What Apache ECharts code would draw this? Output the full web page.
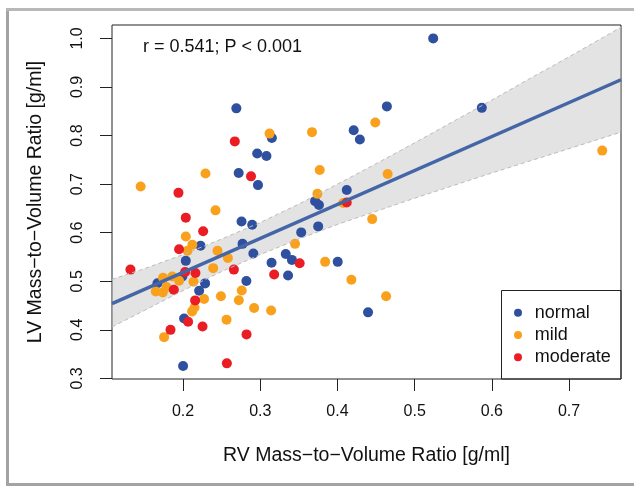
<!DOCTYPE html>
<html><head><meta charset="utf-8">
<script src="https://cdn.jsdelivr.net/npm/echarts@6/dist/echarts.min.js"></script>
<style>html,body{margin:0;padding:0;background:#fff}#c{width:634px;height:487px}</style>
</head><body><div id="c"></div>
<script>
// ---- data ----
const seriesNames = ['normal', 'mild', 'moderate'];
const normalPts = [
  [0.269,0.856],[0.315,0.795],[0.421,0.811],[0.429,0.792],[0.296,0.763],[0.308,0.758],
  [0.272,0.723],[0.297,0.698],[0.412,0.688],[0.371,0.665],[0.376,0.657],[0.524,1.0],
  [0.464,0.860],[0.587,0.857],[0.4396,0.436],[0.2226,0.573],[0.2035,0.542],[0.2757,0.623],
  [0.2895,0.6165],[0.277,0.577],[0.291,0.557],[0.353,0.6006],[0.375,0.613],[0.333,0.556],
  [0.341,0.544],[0.3146,0.538],[0.4003,0.540],[0.336,0.512],[0.1668,0.496],[0.199,0.510],
  [0.2285,0.4956],[0.2208,0.4806],[0.282,0.5005],[0.2013,0.4235],[0.200,0.3255]
];
const mildPts = [
  [0.312,0.804],[0.367,0.807],[0.145,0.695],[0.229,0.722],[0.377,0.729],[0.374,0.680],
  [0.4075,0.661],[0.242,0.646],[0.449,0.827],[0.743,0.769],[0.465,0.721],[0.445,0.628],
  [0.418,0.503],[0.463,0.469],[0.2035,0.592],[0.212,0.575],[0.2057,0.563],[0.2446,0.563],
  [0.258,0.548],[0.239,0.527],[0.345,0.577],[0.384,0.540],[0.174,0.507],[0.1646,0.479],
  [0.1737,0.477],[0.1785,0.488],[0.186,0.510],[0.1948,0.501],[0.2135,0.499],[0.2272,0.4635],
  [0.276,0.481],[0.2722,0.461],[0.249,0.469],[0.2148,0.446],[0.2117,0.438],[0.292,0.445],
  [0.314,0.440],[0.2563,0.421],[0.1754,0.385]
];
const moderatePts = [
  [0.267,0.788],[0.288,0.716],[0.194,0.682],[0.412,0.662],[0.2035,0.631],[0.226,0.603],
  [0.1948,0.566],[0.351,0.537],[0.318,0.514],[0.2658,0.524],[0.1318,0.524],[0.188,0.4826],
  [0.2026,0.519],[0.216,0.517],[0.2156,0.4606],[0.2065,0.4167],[0.2252,0.407],[0.1837,0.400],
  [0.2822,0.3906],[0.2567,0.331]
];
const regLine = [[0.1079,0.4538],[0.7673,0.9149]];
const bandX     = [0.1079,0.15,0.2,0.25,0.3,0.35,0.4,0.45,0.5,0.55,0.6,0.65,0.7,0.7673];
const bandUpper = [0.504,0.526,0.555,0.587,0.621,0.659,0.700,0.742,0.785,0.829,0.873,0.918,0.962,1.023];
const bandLower = [0.406,0.440,0.481,0.520,0.555,0.587,0.617,0.644,0.671,0.697,0.723,0.748,0.773,0.807];
const xTicks = [0.2,0.3,0.4,0.5,0.6,0.7];
const yTicks = [0.3,0.4,0.5,0.6,0.7,0.8,0.9,1.0];
const annotation = 'r = 0.541; P < 0.001';
const xTitle = 'RV Mass\u2212to\u2212Volume Ratio [g/ml]';
const yTitle = 'LV Mass\u2212to\u2212Volume Ratio [g/ml]';
const colors = ['#2f4f9f', '#f9a11d', '#ea1d24'];

// ---- chart ----
const FONT = '"Liberation Sans", Arial, Helvetica, sans-serif';
const chart = echarts.init(document.getElementById('c'), null, {renderer: 'canvas'});
const bandPoly = bandX.map((x,i)=>[x,bandUpper[i]]).concat(bandX.map((x,i)=>[x,bandLower[i]]).reverse());

const option = {
  animation: false,
  backgroundColor: '#fff',
  textStyle: {fontFamily: FONT},
  grid: {left: 112, top: 25, width: 509, height: 354, show: true, borderColor: '#222', borderWidth: 1,
         backgroundColor: 'transparent', containLabel: false, outerBoundsMode: 'none'},
  xAxis: {
    type: 'value', min: 0.1079, max: 0.7673,
    splitLine: {show: false},
    axisLine: {show: false, onZero: false},
    axisTick: {show: true, customValues: xTicks, length: 12, lineStyle: {color: '#222', width: 1}},
    axisLabel: {customValues: xTicks, margin: 25, fontSize: 16, color: '#111', fontFamily: FONT,
                formatter: v => v.toFixed(1)},
    name: xTitle, nameLocation: 'middle', nameGap: 67,
    nameTextStyle: {fontSize: 19.5, color: '#111', fontFamily: FONT}
  },
  yAxis: {
    type: 'value', min: 0.2988, max: 1.0276,
    splitLine: {show: false},
    axisLine: {show: false, onZero: false},
    axisTick: {show: true, customValues: yTicks, length: 12, lineStyle: {color: '#222', width: 1}},
    axisLabel: {customValues: yTicks, rotate: 90, margin: 26, fontSize: 16, color: '#111', fontFamily: FONT,
                formatter: v => v.toFixed(1)},
    name: yTitle, nameLocation: 'middle', nameGap: 66, nameRotate: 90,
    nameTextStyle: {fontSize: 19.5, color: '#111', fontFamily: FONT}
  },
  legend: {
    data: seriesNames, orient: 'vertical', left: 514, top: 303.7, padding: 0,
    itemWidth: 23.4, itemHeight: 8, itemGap: 4.3, icon: 'circle', selectedMode: false,
    textStyle: {fontSize: 18, lineHeight: 18, color: '#111', fontFamily: FONT}
  },
  graphic: [
    {type: 'line', shape: {x1: 7.5, y1: 9, x2: 7.5, y2: 486}, style: {stroke: '#a3a3a3', lineWidth: 3}, silent: true},
    {type: 'line', shape: {x1: 6, y1: 484.5, x2: 640, y2: 484.5}, style: {stroke: '#a3a3a3', lineWidth: 3}, silent: true},
    {type: 'line', shape: {x1: 6, y1: 9.5, x2: 640, y2: 9.5}, style: {stroke: '#b8b8b8', lineWidth: 3}, silent: true},
    {type: 'rect', shape: {x: 501.5, y: 290.5, width: 119.5, height: 88.5},
     style: {fill: 'transparent', stroke: '#222', lineWidth: 1}, z: 3, silent: true},
    {type: 'text', x: 143, y: 47, style: {text: annotation, fontSize: 18, fill: '#111', font: '18px ' + FONT,
     textVerticalAlign: 'middle', verticalAlign: 'middle'}, silent: true}
  ],
  series: [
    {name: 'normal', type: 'scatter', data: normalPts, symbol: 'circle', symbolSize: 10,
     itemStyle: {color: colors[0], opacity: 1}},
    {name: 'mild', type: 'scatter', data: mildPts, symbol: 'circle', symbolSize: 10,
     itemStyle: {color: colors[1], opacity: 1}},
    {name: 'moderate', type: 'scatter', data: moderatePts, symbol: 'circle', symbolSize: 10,
     itemStyle: {color: colors[2], opacity: 1}},
    {type: 'custom', name: 'band', clip: true, data: [0],
     renderItem: (params, api) => ({
       type: 'polygon',
       shape: {points: bandPoly.map(p => api.coord(p))},
       style: {fill: 'rgba(188,188,188,0.42)', stroke: 'none'}
     })},
    {type: 'line', name: 'bandU', data: bandX.map((x,i)=>[x,bandUpper[i]]), showSymbol: false, symbol: 'none',
     lineStyle: {color: '#bcbcbc', width: 1, type: [4,3]}, clip: true},
    {type: 'line', name: 'bandL', data: bandX.map((x,i)=>[x,bandLower[i]]), showSymbol: false, symbol: 'none',
     lineStyle: {color: '#bcbcbc', width: 1, type: [4,3]}, clip: true},
    {type: 'line', name: 'fit', data: regLine, showSymbol: false, symbol: 'none',
     lineStyle: {color: '#4466a6', width: 3.5}, clip: true}
  ]
};
chart.setOption(option);
</script></body></html>
